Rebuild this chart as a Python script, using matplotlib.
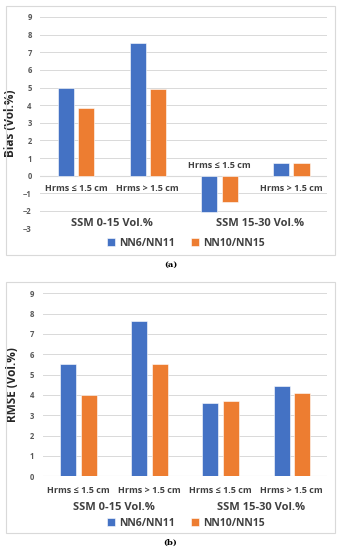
import numpy as np
import matplotlib
matplotlib.use("Agg")
import matplotlib.pyplot as plt
from matplotlib.patches import Rectangle

plt.rcParams["font.family"] = ["Open Sans", "DejaVu Sans"]

categories = ["Hrms \u2264 1.5 cm", "Hrms > 1.5 cm", "Hrms \u2264 1.5 cm", "Hrms > 1.5 cm"]
groups = ["SSM 0-15 Vol.%", "SSM 15-30 Vol.%"]
series = ["NN6/NN11", "NN10/NN15"]
bias_nn6 = [5.0, 7.5, -2.05, 0.7]
bias_nn10 = [3.85, 4.93, -1.5, 0.7]
rmse_nn6 = [5.5, 7.62, 3.59, 4.46]
rmse_nn10 = [4.0, 5.52, 3.69, 4.11]

BLUE = "#4472C4"
ORANGE = "#ED7D31"
W, H = 341, 550


def frac(px_left, px_top, px_w, px_h):
    return [px_left / W, 1 - (px_top + px_h) / H, px_w / W, px_h / H]


def draw_panel(fig, rect, box, vals1, vals2, ylim, ylabel, ylabel_x,
               label_offsets, group_y, legend_y, tag, tag_y):
    fig.patches.append(Rectangle((box[0] / W, 1 - box[3] / H),
                                 (box[2] - box[0]) / W, (box[3] - box[1]) / H,
                                 transform=fig.transFigure, fill=False,
                                 edgecolor="#d9d9d9", linewidth=0.8))
    ax = fig.add_axes(rect)
    x = np.arange(len(categories))
    b1 = ax.bar(x - 0.14, vals1, 0.225, color=BLUE, edgecolor="white",
                linewidth=0.4, zorder=3, label=series[0])
    b2 = ax.bar(x + 0.145, vals2, 0.225, color=ORANGE, edgecolor="white",
                linewidth=0.4, zorder=3, label=series[1])
    ax.set_xlim(-0.5, 3.5)
    ax.set_ylim(*ylim)
    ax.set_yticks(range(ylim[0], ylim[1] + 1))
    ax.yaxis.grid(True, color="#d9d9d9", linewidth=0.7, zorder=0)
    ax.set_axisbelow(True)
    for s in ax.spines.values():
        s.set_visible(False)
    ax.axhline(0, color="#d9d9d9", linewidth=0.8, zorder=1)
    ax.set_xticks([])
    ax.tick_params(axis="y", length=0, pad=6, labelsize=5.5,
                   labelcolor="#595959")
    for lbl in ax.get_yticklabels():
        lbl.set_fontweight("bold")
    ax.set_ylabel(ylabel, fontsize=8.5, fontweight="bold", color="#262626")
    ax.yaxis.set_label_coords(ylabel_x, 0.5)

    for i, cat in enumerate(categories):
        ax.annotate(cat, xy=(i, 0), xytext=(0, label_offsets[i]),
                    textcoords="offset points", ha="center", va="center",
                    fontsize=6.5, fontweight="bold", color="#404040")
    for j, g in enumerate(groups):
        xc = 0.5 + 2 * j + (0.07 * j)
        fig.text((rect[0] * W + (xc + 0.5) * rect[2] * W / 4) / W,
                 1 - group_y / H, g, ha="center", va="center",
                 fontsize=8, fontweight="bold", color="#404040")
    fig.legend(handles=[b1, b2], labels=series, loc="center",
               bbox_to_anchor=(0.545, 1 - legend_y / H), ncol=2,
               frameon=False, handlelength=0.7, handleheight=0.7,
               handletextpad=0.4, columnspacing=1.6,
               prop={"size": 7.5, "weight": "bold"}, labelcolor="#404040")
    fig.text(0.5, 1 - tag_y / H, tag, ha="center", va="center",
             fontsize=6, fontweight="bold", family="DejaVu Serif")
    return ax


fig = plt.figure(figsize=(3.41, 5.5), dpi=100)

draw_panel(fig, frac(40, 17, 287, 211.6), (6, 6, 335, 255),
           bias_nn6, bias_nn10, (-3, 9), "Bias (Vol.%)", -0.08,
           [-9.4, -9.4, 7.7, -9.4], 223, 243, "(a)", 265)
draw_panel(fig, frac(42.7, 293.3, 284.3, 183), (6, 282, 335, 533),
           rmse_nn6, rmse_nn10, (0, 9), "RMSE (Vol.%)", -0.083,
           [-10, -10, -10, -10], 507, 523, "(b)", 543)

fig.savefig("out.png", dpi=100)
